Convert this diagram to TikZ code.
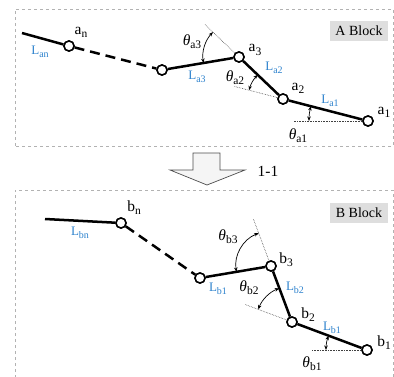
\documentclass[tikz,border=0pt]{standalone}
\usepackage{fontspec}
\setmainfont{Liberation Serif}
\usetikzlibrary{calc,angles,arrows.meta}
\definecolor{lblue}{RGB}{45,130,205}
\definecolor{boxgray}{RGB}{222,222,222}
\newcommand\subx[2]{#1\raisebox{-0.45ex}{\fontsize{11.5}{12}\selectfont #2}}
\newcommand\thx[1]{\textit{θ}\raisebox{-0.45ex}{\fontsize{11.5}{12}\selectfont #1}}
\newcommand\Lx[1]{L\raisebox{-0.45ex}{\fontsize{10}{11}\selectfont #1}}
\tikzset{
  joint/.style={circle,draw=black,fill=white,line width=1.5pt,inner sep=0pt,minimum size=10pt},
  link/.style={line width=2.5pt},
  dlink/.style={line width=2.5pt,dash pattern=on 10pt off 6pt},
  ext/.style={densely dotted,line width=0.6pt,black!75},
  border/.style={dashed,gray!60,line width=0.6pt},
  ang/.style={draw,line width=0.7pt,{Stealth[length=4.5pt,width=3.5pt]}-{Stealth[length=4.5pt,width=3.5pt]}},
  lab/.style={font=\fontsize{15.5}{17}\selectfont,inner sep=0pt},
  llab/.style={font=\fontsize{13}{14}\selectfont,text=lblue,inner sep=0pt},
  blk/.style={fill=boxgray,font=\fontsize{14}{16}\selectfont,minimum width=58pt,minimum height=20pt,inner sep=0pt},
}
\begin{document}
\begin{tikzpicture}[x=1pt,y=1pt]
\useasboundingbox (0,0) rectangle (394,376);
% block borders
\draw[border] (15,230) rectangle (393,367);
\draw[border] (15,-2) rectangle (393,186);
% A block coordinates
\coordinate (La0) at (22,343);
\node[joint] (an) at (69,330) {};
\node[joint] (a4) at (162,306) {};
\node[joint] (a3) at (239,319) {};
\node[joint] (a2) at (283,277) {};
\node[joint] (a1) at (368,255) {};
\coordinate (a3e) at ($(a3)!-48pt!(a2)$);
\coordinate (a2e) at ($(a2)!-50pt!(a1)$);
\coordinate (a1e) at (293,255);
\draw[ext] (a3.center) -- (a3e);
\draw[ext] (a2.center) -- (a2e);
\draw[ext] (a1.center) -- (a1e);
\draw[link] (La0) -- (an);
\draw[dlink] (an) -- (a4);
\draw[link] (a4) -- (a3) -- (a2) -- (a1);
\node[joint] at (an) {};\node[joint] at (a4) {};\node[joint] at (a3) {};\node[joint] at (a2) {};\node[joint] at (a1) {};
\pic[ang,angle radius=36pt] {angle=a3e--a3--a4};
\pic[ang,angle radius=35pt] {angle=a3--a2--a2e};
\pic[ang,angle radius=59pt] {angle=a2--a1--a1e};
% labels A
\node[lab] (tan) at (81,344) {\subx{a}{n}};
\node[llab] (tlan) at (40,324) {\Lx{an}};
\node[llab] (tla3) at (197,299) {\Lx{a3}};
\node[lab] (ta3) at (255,326) {\subx{a}{3}};
\node[llab] (tla2) at (274,308) {\Lx{a2}};
\node[lab] (tha3) at (192,334) {\thx{a3}};
\node[lab] (tha2) at (235,298) {\thx{a2}};
\node[lab] (ta2) at (298,288) {\subx{a}{2}};
\node[llab] (tla1) at (330,275) {\Lx{a1}};
\node[lab] (ta1) at (384,264) {\subx{a}{1}};
\node[lab] (tha1) at (298,240) {\thx{a1}};
\node[blk] (ablk) at (359,345) {A Block};
% arrow
\draw[gray!60!black,fill=gray!8,line width=0.7pt] (193,223) -- (220,223) -- (220,206) -- (245,206) -- (207,191) -- (170,206) -- (193,206) -- cycle;
\node[lab] (t11) at (268,205) {1-1};
% B block
\coordinate (Lb0) at (45,157);
\node[joint] (bn) at (121,153) {};
\node[joint] (b4) at (200,98) {};
\node[joint] (b3) at (271,110) {};
\node[joint] (b2) at (292,54) {};
\node[joint] (b1) at (367,26) {};
\coordinate (b3e) at ($(b3)!-50pt!(b2)$);
\coordinate (b2e) at ($(b2)!-50pt!(b1)$);
\coordinate (b1e) at (312,26);
\draw[ext] (b3.center) -- (b3e);
\draw[ext] (b2.center) -- (b2e);
\draw[ext] (b1.center) -- (b1e);
\draw[link] (Lb0) -- (bn);
\draw[dlink] (bn) -- (b4);
\draw[link] (b4) -- (b3) -- (b2) -- (b1);
\node[joint] at (bn) {};\node[joint] at (b4) {};\node[joint] at (b3) {};\node[joint] at (b2) {};\node[joint] at (b1) {};
\pic[ang,angle radius=35pt] {angle=b3e--b3--b4};
\pic[ang,angle radius=36pt] {angle=b3--b2--b2e};
\pic[ang,angle radius=41pt] {angle=b2--b1--b1e};
\node[lab] (tbn) at (134,168) {\subx{b}{n}};
\node[llab] (tlbn) at (80,143) {\Lx{bn}};
\node[llab] (tlb1a) at (218,87) {\Lx{b1}};
\node[lab] (tb3) at (286,116) {\subx{b}{3}};
\node[llab] (tlb2) at (295,88) {\Lx{b2}};
\node[lab] (thb3) at (228,139) {\thx{b3}};
\node[lab] (thb2) at (249,88) {\thx{b2}};
\node[lab] (tb2) at (308,61) {\subx{b}{2}};
\node[llab] (tlb1) at (332,48) {\Lx{b1}};
\node[lab] (tb1) at (384,33) {\subx{b}{1}};
\node[lab] (thb1) at (312,12) {\thx{b1}};
\node[blk] (bblk) at (359,163.5) {B Block};
\end{tikzpicture}
\end{document}
